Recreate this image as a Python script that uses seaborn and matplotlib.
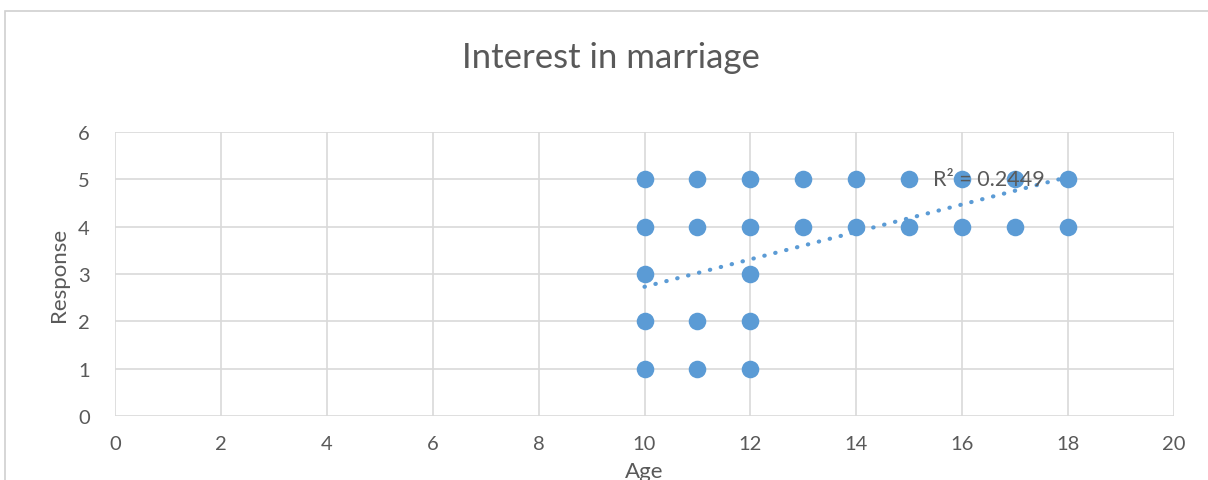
import matplotlib
matplotlib.use("Agg")
import matplotlib.pyplot as plt
from matplotlib.patches import Rectangle
import seaborn as sns
import pandas as pd
import numpy as np

# Survey responses: age of respondent and interest-in-marriage score
age = [10, 10, 10, 10, 10,
       11, 11, 11, 11,
       12, 12, 12, 12, 12,
       13, 13, 14, 14, 15, 15, 16, 16, 17, 17, 18, 18]
response = [5, 4, 3, 2, 1,
            5, 4, 2, 1,
            5, 4, 3, 2, 1,
            5, 4, 5, 4, 5, 4, 5, 4, 5, 4, 5, 4]

# Linear trend line (slope, intercept) and its fit statistic
trend_slope = 0.29
trend_intercept = -0.17
r_squared = 0.2449

x_ticks = [0, 2, 4, 6, 8, 10, 12, 14, 16, 18, 20]
y_ticks = [0, 1, 2, 3, 4, 5, 6]

df = pd.DataFrame({"Age": age, "Response": response})

sns.set_theme(style="white")
plt.rcParams["font.family"] = ["Lato", "DejaVu Sans"]

text_color = "#595959"
grid_color = "#D9D9D9"
point_color = "#5B9BD5"

fig = plt.figure(figsize=(12.08, 4.81), dpi=100)
ax = fig.add_axes([115 / 1208, 1 - 417 / 481, (1174 - 115) / 1208, (417 - 133) / 481])

# chart-area frame, running off the right and bottom edges
fig.patches.append(Rectangle((5 / 1208, -0.1), 1.2, 1 - 12 / 481 + 0.1,
                             transform=fig.transFigure, fill=False,
                             edgecolor="#D0D0D0", linewidth=1.2, zorder=0))

sns.scatterplot(data=df, x="Age", y="Response", ax=ax, s=160,
                color=point_color, edgecolor=point_color, linewidth=0, zorder=3)

xs = np.array([min(age), max(age)])
ax.plot(xs, trend_intercept + trend_slope * xs, color=point_color,
        linestyle=(0, (0.1, 2.6)), linewidth=3.0, dash_capstyle="round", zorder=4)

ax.text(16.5, 5.0, f"R² = {r_squared}", fontsize=15.5, color=text_color,
        ha="center", va="center", zorder=5)

ax.set_xlim(0, 20)
ax.set_ylim(0, 6)
ax.set_xticks(x_ticks)
ax.set_yticks(y_ticks)
ax.grid(True, color=grid_color, linewidth=1.2)
ax.set_axisbelow(True)
for s in ax.spines.values():
    s.set_visible(False)
ax.tick_params(axis="both", length=0, labelsize=14.5, labelcolor=text_color)
ax.tick_params(axis="x", pad=14)
ax.tick_params(axis="y", pad=18)
ax.set_xlabel("Age", fontsize=16, color=text_color, labelpad=6)
ax.set_ylabel("Response", fontsize=16, color=text_color, labelpad=7)

fig.text(611 / 1208, 1 - 58 / 481, "Interest in marriage", fontsize=25,
         color=text_color, ha="center", va="center")

fig.savefig("out.png", dpi=100)
